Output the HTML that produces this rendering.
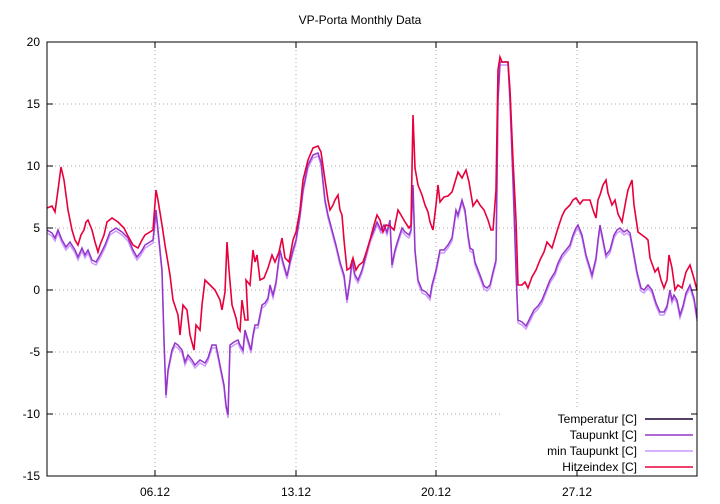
<!DOCTYPE html>
<html><head><meta charset="utf-8"><style>
body{margin:0;background:#fff}
svg{display:block;font-family:"Liberation Sans",sans-serif;font-size:12px}
</style></head><body>
<svg width="720" height="504" viewBox="0 0 720 504" xmlns="http://www.w3.org/2000/svg">
<rect width="720" height="504" fill="#fff"/>
<text x="360" y="24" text-anchor="middle">VP-Porta Monthly Data</text>
<g stroke="#aaa" stroke-dasharray="1,3" stroke-width="1">
<line x1="47" y1="104" x2="697" y2="104"/><line x1="47" y1="166" x2="697" y2="166"/>
<line x1="47" y1="228" x2="697" y2="228"/><line x1="47" y1="290" x2="697" y2="290"/>
<line x1="47" y1="352" x2="697" y2="352"/><line x1="47" y1="414" x2="500" y2="414"/>
<line x1="155" y1="42" x2="155" y2="476"/><line x1="296" y1="42" x2="296" y2="476"/>
<line x1="436" y1="42" x2="436" y2="476"/><line x1="577" y1="42" x2="577" y2="410"/>
</g>
<g text-anchor="end">
<text x="40" y="46">20</text><text x="40" y="108">15</text><text x="40" y="170">10</text>
<text x="40" y="232">5</text><text x="40" y="294">0</text><text x="40" y="356">-5</text>
<text x="40" y="418">-10</text><text x="40" y="480">-15</text>
</g>
<g text-anchor="middle">
<text x="155" y="496">06.12</text><text x="296" y="496">13.12</text>
<text x="436" y="496">20.12</text><text x="577" y="496">27.12</text>
</g>
<polyline fill="none" stroke="#cc99ff" stroke-width="1.5" transform="translate(0,3)" points="47,230 52,233 55,238 58,230 62,240 66,247 70,242 75,250 78,257 82,248 85,255 88,250 92,260 96,262 100,255 105,245 110,232 116,228 122,232 128,238 133,250 137,257 141,252 145,245 150,242 153,240 156,210 158,230 162,270 164,340 166,395 168,370 172,350 175,343 178,345 182,350 185,362 188,355 192,360 195,365 200,360 205,363 208,358 212,345 216,345 220,365 224,385 226,405 228,415 230,345 234,342 238,340 240,345 243,350 245,330 248,340 251,350 253,335 255,325 258,325 262,305 265,303 268,298 270,285 273,295 276,282 280,250 283,262 287,276 290,262 293,250 296,240 300,215 303,190 308,165 313,155 318,153 321,162 325,200 328,215 332,230 336,245 340,262 344,275 347,300 350,280 352,260 355,275 358,280 362,270 366,255 370,240 374,230 377,222 381,230 384,225 387,232 390,220 392,265 395,250 398,240 402,228 405,232 409,235 411,230 413,185 415,250 418,280 422,290 426,292 430,297 432,285 436,270 440,250 444,250 448,245 452,238 456,210 458,215 462,200 465,210 468,235 470,248 473,250 475,262 480,275 484,286 487,288 490,285 493,272 496,260 498,100 500,62 502,62 508,62 510,100 513,180 516,270 518,320 522,322 526,326 530,318 534,310 538,306 542,300 546,290 550,280 555,272 558,263 562,255 566,250 570,245 573,235 576,228 578,225 582,235 586,255 590,268 592,275 596,258 598,240 600,225 603,240 606,255 610,250 614,235 617,230 620,228 624,232 627,230 630,233 634,255 637,272 641,288 644,290 648,285 652,290 656,303 660,312 664,312 667,306 670,290 672,300 674,295 677,300 680,315 683,306 686,293 690,285 694,298 697,318"/>
<polyline fill="none" stroke="#9436c8" stroke-width="1.5" points="47,230 52,233 55,238 58,230 62,240 66,247 70,242 75,250 78,257 82,248 85,255 88,250 92,260 96,262 100,255 105,245 110,232 116,228 122,232 128,238 133,250 137,257 141,252 145,245 150,242 153,240 156,210 158,230 162,270 164,340 166,395 168,370 172,350 175,343 178,345 182,350 185,362 188,355 192,360 195,365 200,360 205,363 208,358 212,345 216,345 220,365 224,385 226,405 228,415 230,345 234,342 238,340 240,345 243,350 245,330 248,340 251,350 253,335 255,325 258,325 262,305 265,303 268,298 270,285 273,295 276,282 280,250 283,262 287,276 290,262 293,250 296,240 300,215 303,190 308,165 313,155 318,153 321,162 325,200 328,215 332,230 336,245 340,262 344,275 347,300 350,280 352,260 355,275 358,280 362,270 366,255 370,240 374,230 377,222 381,230 384,225 387,232 390,220 392,265 395,250 398,240 402,228 405,232 409,235 411,230 413,185 415,250 418,280 422,290 426,292 430,297 432,285 436,270 440,250 444,250 448,245 452,238 456,210 458,215 462,200 465,210 468,235 470,248 473,250 475,262 480,275 484,286 487,288 490,285 493,272 496,260 498,100 500,62 502,62 508,62 510,100 513,180 516,270 518,320 522,322 526,326 530,318 534,310 538,306 542,300 546,290 550,280 555,272 558,263 562,255 566,250 570,245 573,235 576,228 578,225 582,235 586,255 590,268 592,275 596,258 598,240 600,225 603,240 606,255 610,250 614,235 617,230 620,228 624,232 627,230 630,233 634,255 637,272 641,288 644,290 648,285 652,290 656,303 660,312 664,312 667,306 670,290 672,300 674,295 677,300 680,315 683,306 686,293 690,285 694,298 697,318"/>
<polyline fill="none" stroke="#e8003c" stroke-width="1.6" points="47,208 52,206 55,212 58,190 61,167 64,180 68,210 72,230 75,240 78,245 81,235 84,230 86,222 88,220 92,230 95,242 98,252 100,245 104,235 107,222 112,218 118,222 124,228 128,236 133,245 138,248 142,240 145,235 150,232 153,230 156,190 158,200 162,225 165,245 170,275 173,300 178,315 180,335 183,305 187,310 190,335 194,350 196,325 200,330 202,305 205,280 210,285 215,290 220,300 222,310 225,292 227,242 229,270 232,305 236,318 238,328 240,331 242,300 245,320 248,320 246,280 250,285 253,250 255,262 257,255 260,280 264,278 268,268 272,255 275,262 279,252 282,238 285,258 289,262 293,240 296,232 300,210 303,180 308,160 313,148 318,146 321,152 325,180 328,200 330,210 333,205 335,200 338,195 340,210 342,215 344,240 347,270 350,268 353,258 356,270 359,265 363,262 366,253 370,240 374,225 377,215 380,220 383,232 386,225 390,226 394,230 398,210 401,215 405,222 409,228 411,225 413,115 415,168 418,185 422,195 425,205 428,212 430,222 433,230 436,205 438,185 440,202 444,197 448,196 452,192 455,182 458,172 462,178 466,170 469,182 473,206 477,200 480,205 484,210 488,220 491,230 493,230 496,190 498,70 500,57 502,62 508,62 510,90 513,160 516,220 518,285 522,285 525,282 528,288 532,277 536,270 540,260 544,252 547,242 552,248 555,238 558,228 562,216 565,210 570,205 573,200 576,198 580,204 583,200 586,200 590,200 593,210 596,218 598,200 600,195 603,185 606,180 608,193 612,205 615,200 618,214 622,222 626,200 628,190 632,180 634,205 638,232 642,235 646,238 648,240 650,258 655,272 658,268 661,280 664,288 667,280 669,255 672,268 675,290 678,285 682,288 686,272 690,265 693,275 697,290"/>
<rect x="47" y="42" width="650" height="434" fill="none" stroke="#000" stroke-width="1"/>
<g stroke="#000">
<line x1="47" y1="104" x2="53" y2="104"/><line x1="47" y1="166" x2="53" y2="166"/><line x1="47" y1="228" x2="53" y2="228"/><line x1="47" y1="290" x2="53" y2="290"/><line x1="47" y1="352" x2="53" y2="352"/><line x1="47" y1="414" x2="53" y2="414"/>
<line x1="691" y1="104" x2="697" y2="104"/><line x1="691" y1="166" x2="697" y2="166"/><line x1="691" y1="228" x2="697" y2="228"/><line x1="691" y1="290" x2="697" y2="290"/><line x1="691" y1="352" x2="697" y2="352"/><line x1="691" y1="414" x2="697" y2="414"/>
<line x1="155" y1="476" x2="155" y2="470"/><line x1="296" y1="476" x2="296" y2="470"/><line x1="436" y1="476" x2="436" y2="470"/><line x1="577" y1="476" x2="577" y2="470"/>
<line x1="155" y1="42" x2="155" y2="48"/><line x1="296" y1="42" x2="296" y2="48"/><line x1="436" y1="42" x2="436" y2="48"/><line x1="577" y1="42" x2="577" y2="48"/>
</g>
<g text-anchor="end">
<text x="637" y="423">Temperatur [C]</text>
<text x="637" y="439">Taupunkt [C]</text>
<text x="637" y="455">min Taupunkt [C]</text>
<text x="637" y="471">Hitzeindex [C]</text>
</g>
<line x1="645" y1="419" x2="693" y2="419" stroke="#1a0033" stroke-width="1.5"/>
<line x1="645" y1="435" x2="693" y2="435" stroke="#9436c8" stroke-width="1.5"/>
<line x1="645" y1="451" x2="693" y2="451" stroke="#cc99ff" stroke-width="1.5"/>
<line x1="645" y1="467" x2="693" y2="467" stroke="#e8003c" stroke-width="1.5"/>
</svg>
</body></html>
